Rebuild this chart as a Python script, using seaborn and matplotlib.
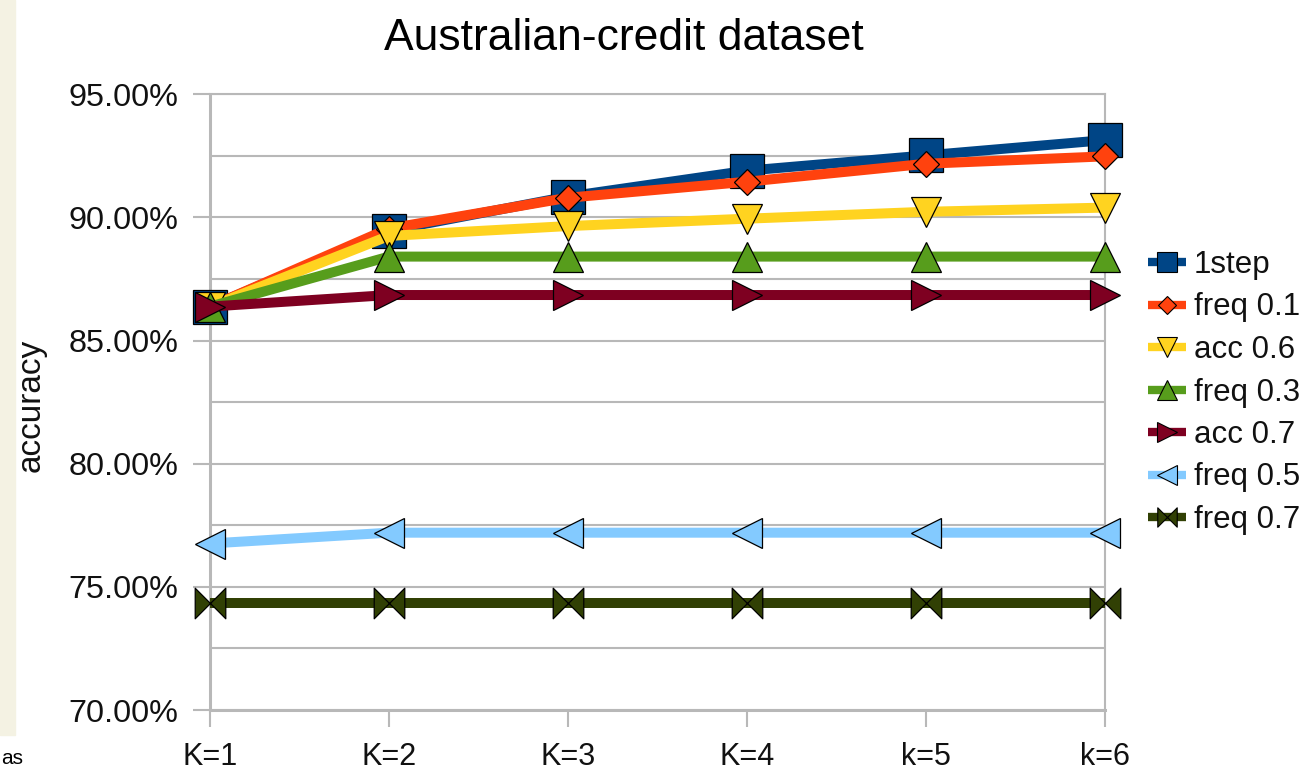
import numpy as np
import pandas as pd
import matplotlib
matplotlib.use("Agg")
import matplotlib.pyplot as plt
from matplotlib.path import Path
from matplotlib.lines import Line2D
from matplotlib.ticker import MultipleLocator, FuncFormatter
import seaborn as sns

# ---- data -------------------------------------------------------------
categories = ["K=1", "K=2", "K=3", "K=4", "k=5", "k=6"]
step1   = [86.38, 89.46, 90.85, 91.90, 92.52, 93.14]
freq01  = [86.38, 89.55, 90.80, 91.45, 92.18, 92.48]
acc06   = [86.38, 89.25, 89.65, 89.95, 90.23, 90.40]
freq03  = [86.38, 88.41, 88.41, 88.41, 88.41, 88.41]
acc07   = [86.38, 86.85, 86.85, 86.85, 86.85, 86.85]
freq05  = [76.76, 77.20, 77.20, 77.20, 77.20, 77.20]
freq07  = [74.33, 74.33, 74.33, 74.33, 74.33, 74.33]
series_names = ["1step", "freq 0.1", "acc 0.6", "freq 0.3", "acc 0.7", "freq 0.5", "freq 0.7"]
series_values = [step1, freq01, acc06, freq03, acc07, freq05, freq07]

# ---- styling -----------------------------------------------------------
sns.set_style("white")
plt.rcParams["font.family"] = ["Liberation Sans", "DejaVu Sans"]

colors = ["#004586", "#ff420e", "#ffd320", "#579d1c", "#7e0021", "#83caff", "#314004"]

# sideways hourglass (bow-tie) symbol
bowtie = Path([(-1, -1), (-1, 1), (1, -1), (1, 1), (-1, -1)],
              [Path.MOVETO, Path.LINETO, Path.LINETO, Path.LINETO, Path.CLOSEPOLY])
markers = ["s", "D", "v", "^", ">", "<", bowtie]
msizes = [25, 13.5, 21.5, 21.5, 21.5, 22, 22]
leg_msizes = [15, 9, 14, 14, 14, 14, 14]

GRID = "#b8b8b8"

fig = plt.figure(figsize=(13.08, 7.71), dpi=100)
fig.patch.set_facecolor("white")

# beige strip of the surrounding page on the left edge
fig.patches.append(plt.Rectangle((0, 1 - 735 / 771), 15 / 1308, 735 / 771,
                                 transform=fig.transFigure, color="#f4f2e3", zorder=0))
fig.text(1 / 1308, 3 / 771, "as", fontsize=15, ha="left", va="bottom", color="black")

ax = fig.add_axes([210 / 1308, (771 - 710) / 771, 895 / 1308, 615.7 / 771])

pos = np.arange(len(categories))
for name, vals, c, m, ms in zip(series_names, series_values, colors, markers, msizes):
    df = pd.DataFrame({"pos": pos, "acc": vals})
    sns.lineplot(data=df, x="pos", y="acc", ax=ax, color=c, lw=7.2,
                 marker=m, markersize=ms, markerfacecolor=c, markeredgecolor="black",
                 markeredgewidth=0.9, clip_on=False, sort=False, estimator=None,
                 solid_joinstyle="round", solid_capstyle="butt", legend=False)

ax.set_xlim(pos[0], pos[-1])
ax.set_ylim(70, 95)
ax.set_xticks(pos)
ax.set_xticklabels(categories)
ax.yaxis.set_major_locator(MultipleLocator(5))
ax.yaxis.set_minor_locator(MultipleLocator(2.5))
ax.yaxis.set_major_formatter(FuncFormatter(lambda v, _: f"{v:.2f}%"))
ax.grid(False)
ax.grid(True, axis="y", which="both", color=GRID, lw=1.5, zorder=0)
ax.set_axisbelow(True)

ax.tick_params(axis="y", which="major", direction="out", length=12.2, width=1.5,
               color=GRID, pad=10.5, labelsize=23.3, labelcolor="#111111", left=True)
ax.tick_params(axis="y", which="minor", length=0)
ax.tick_params(axis="x", direction="out", length=12.2, width=1.5,
               color=GRID, pad=10.5, labelsize=22, labelcolor="#111111", bottom=True)

for side, w in [("left", 2.2), ("bottom", 2.2), ("right", 1.5), ("top", 1.5)]:
    ax.spines[side].set_visible(True)
    ax.spines[side].set_color(GRID)
    ax.spines[side].set_linewidth(w)
    ax.spines[side].set_zorder(0.5)

ax.set_xlabel("")
ax.set_ylabel("")

fig.text(31 / 1308, 1 - 405 / 771, "accuracy", rotation=90, ha="center", va="center",
         fontsize=24, color="#111111")
fig.text(624 / 1308, 1 - 50 / 771, "Australian-credit dataset", ha="center",
         va="baseline", fontsize=32, color="black")

handles = [Line2D([], [], color=c, lw=6, marker=m, markersize=ms, markerfacecolor=c,
                  markeredgecolor="black", markeredgewidth=0.8, solid_capstyle="butt")
           for c, m, ms in zip(colors, markers, leg_msizes)]
fig.legend(handles, series_names, loc="center left",
           bbox_to_anchor=(1148 / 1308, 1 - 392.5 / 771), frameon=False,
           fontsize=22.5, handlelength=1.22, handletextpad=0.25, labelspacing=0.4,
           borderpad=0, borderaxespad=0, labelcolor="#111111")

fig.savefig("out.png", dpi=100)
